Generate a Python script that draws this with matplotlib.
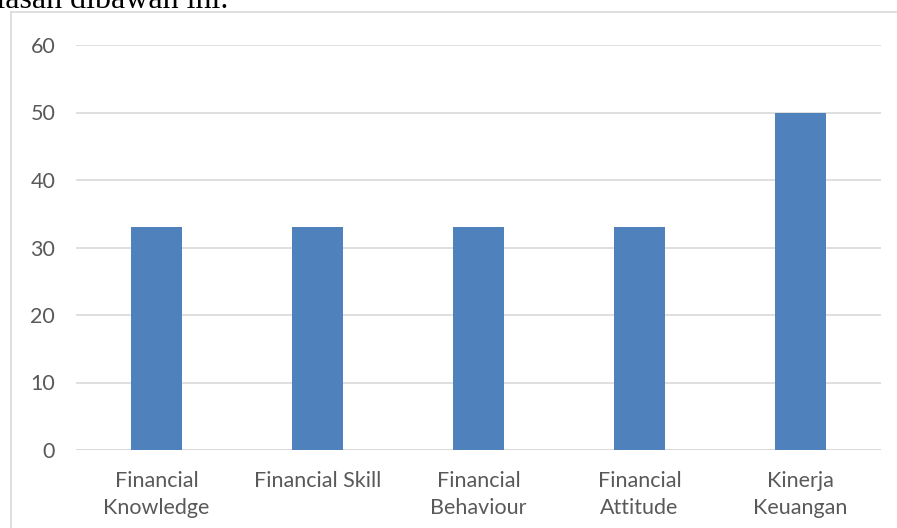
import matplotlib
matplotlib.use("Agg")
import matplotlib.pyplot as plt
from matplotlib.lines import Line2D

categories = ["Financial\nKnowledge", "Financial Skill", "Financial\nBehaviour", "Financial\nAttitude", "Kinerja\nKeuangan"]
values = [33, 33, 33, 33, 50]
yticks = [0, 10, 20, 30, 40, 50, 60]

W, H = 897, 528
fig = plt.figure(figsize=(W / 100, H / 100), dpi=100)
fig.patch.set_facecolor("white")

ax = fig.add_axes([76 / W, 1 - 450 / H, (881 - 76) / W, (450 - 45) / H])
x = list(range(len(categories)))
ax.bar(x, values, width=0.317, color="#4f81bd", zorder=3)
ax.set_xlim(-0.5, len(categories) - 0.5)
ax.set_ylim(0, 60)
ax.set_yticks(yticks)
ax.set_xticks(x)
ax.set_xticklabels(categories)
for s in ax.spines.values():
    s.set_visible(False)
ax.grid(axis="y", color="#d9d9d9", linewidth=1.2, zorder=0)
ax.axhline(0, color="#d9d9d9", linewidth=1.2, zorder=1)
ax.tick_params(axis="both", length=0, labelcolor="#595959", labelsize=15.5)
ax.tick_params(axis="y", pad=15)
ax.tick_params(axis="x", pad=15)
for lab in ax.get_xticklabels() + ax.get_yticklabels():
    lab.set_family("Lato")
    lab.set_linespacing(1.45)

# chart frame (partially visible)
fig.add_artist(Line2D([11 / W, 11 / W], [0, 1 - 12 / H], color="#d9d9d9", linewidth=1.2, transform=fig.transFigure))
fig.add_artist(Line2D([11 / W, 1], [1 - 12 / H, 1 - 12 / H], color="#d9d9d9", linewidth=1.2, transform=fig.transFigure))

# cut-off document text above the chart
fig.text(228 / W, 1 - 8 / H, "penjelasan dibawah ini.", ha="right", va="baseline",
         family="Liberation Serif", fontsize=23, color="black")

fig.savefig("out.png", dpi=100)
